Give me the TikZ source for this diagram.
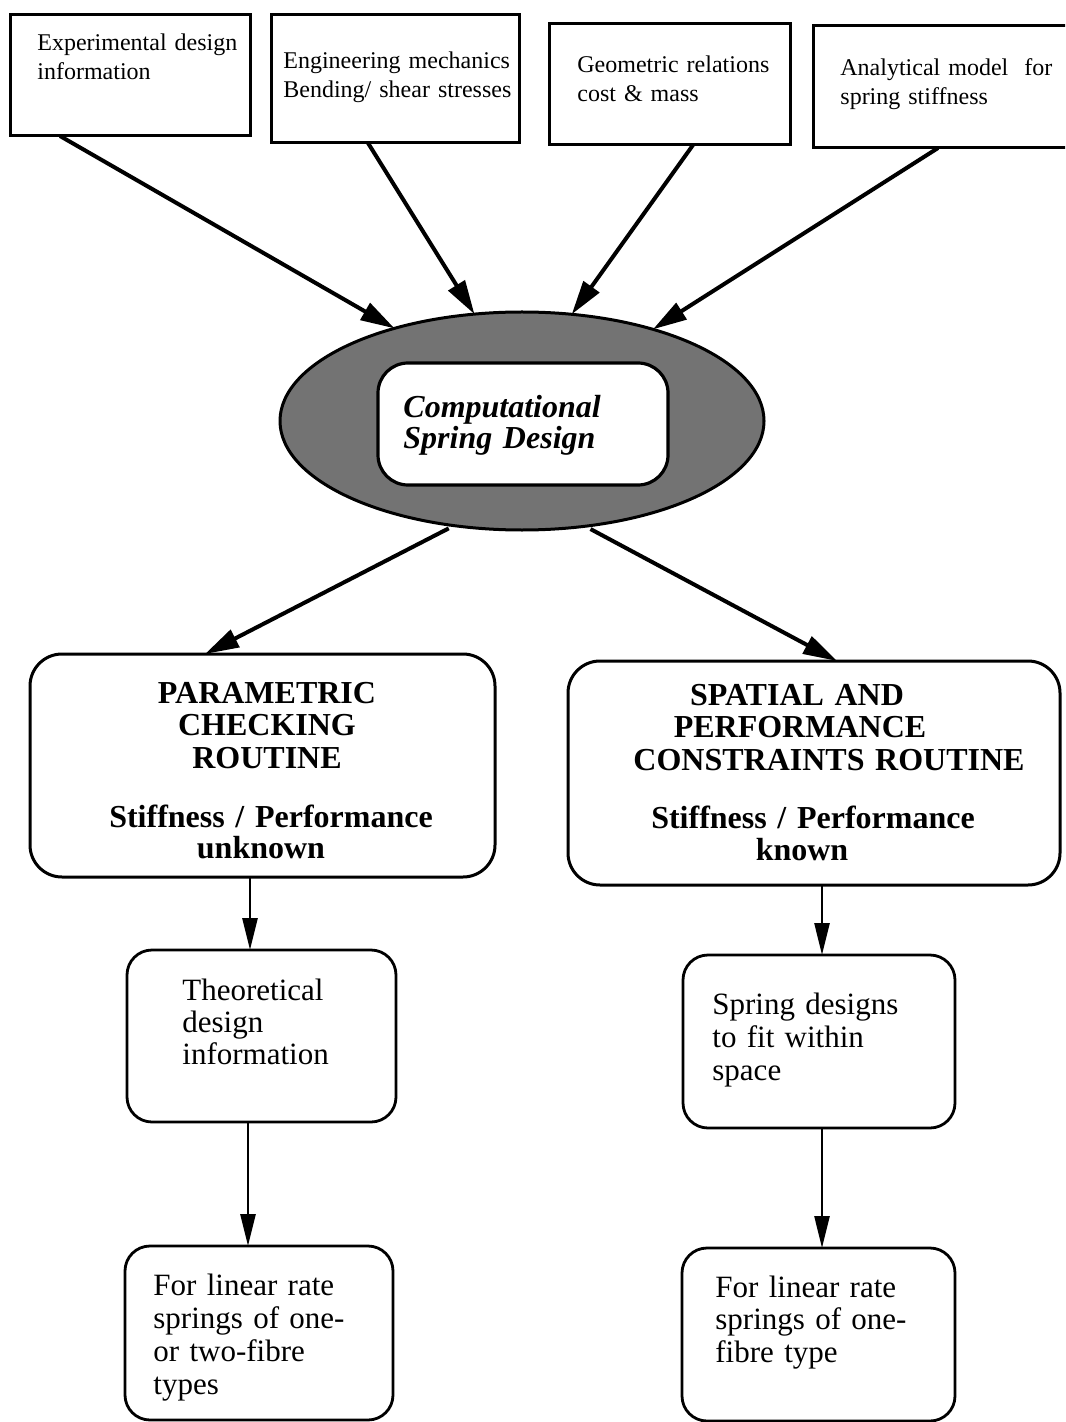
\documentclass[tikz,border=0pt]{standalone}
\usepackage{fontspec}
\setmainfont{Liberation Serif}
\usetikzlibrary{arrows.meta,fit,shapes.geometric}

\begin{document}
\begin{tikzpicture}[x=0.5pt,y=-0.5pt,
  sqbox/.style={draw,line width=1.5pt,inner sep=0pt,outer sep=0pt},
  bigbox/.style={draw,line width=1.5pt,rounded corners=16pt,inner sep=0pt,outer sep=0pt},
  smallbox/.style={draw,line width=1.4pt,rounded corners=12.5pt,inner sep=0pt,outer sep=0pt},
  toptxt/.style={inner sep=0pt,anchor=base west,text width=160pt,align=left,
    font=\fontsize{12}{14.5}\selectfont},
  titletxt/.style={inner sep=0pt,anchor=base,text width=230pt,align=center,
    font=\bfseries\fontsize{16}{16.25}\selectfont},
  subtxt/.style={inner sep=0pt,anchor=base,text width=230pt,align=center,
    font=\bfseries\fontsize{16}{15.75}\selectfont},
  lowtxt/.style={inner sep=0pt,anchor=base west,text width=120pt,align=left,
    font=\fontsize{15.5}{16.5}\selectfont},
  bigarrow/.style={line width=2pt,-{Triangle[length=17pt,width=9.5pt]}},
  thinarrow/.style={line width=1.3pt,-{Triangle[length=16pt,width=7.5pt]}},
]
\useasboundingbox (0,0) rectangle (1065,1422);
\clip (0,0) rectangle (1065,1422);

% source boxes along the top
\node[sqbox,fit={(10,15) (250,136)}] (b1) {};
\node[sqbox,fit={(271,15) (519,143)}] (b2) {};
\node[sqbox,fit={(549,24) (790,145)}] (b3) {};
\node[sqbox,fit={(813,26) (1090,148)}] (b4) {};

\node[toptxt] (t1) at (37,51) {Experimental design\\information};
\node[toptxt] (t2) at (283,69) {Engineering mechanics\\Bending/ shear stresses};
\node[toptxt] (t3) at (577,73) {Geometric relations\\cost \& mass};
\node[toptxt] (t4) at (840,76) {Analytical model~ for\\spring stiffness};

% central design kernel
\node[draw,ellipse,line width=1.5pt,fill=black!55,minimum width=242pt,
      minimum height=109pt,inner sep=0pt,outer sep=0pt] (ell) at (522,421) {};
\node[draw,fill=white,line width=1.6pt,rounded corners=15pt,inner sep=0pt,
      outer sep=0pt,fit={(378,363) (668,485)}] (core) {};
\node[inner sep=0pt,anchor=base west,text width=150pt,align=left,
      font=\bfseries\itshape\fontsize{16}{15.75}\selectfont] (coretxt) at (403,417)
      {Computational\\Spring Design};

% the two routines
\node[bigbox,fit={(30,654) (495,877)}] (pbox) {};
\node[bigbox,fit={(568,661) (1060,885)}] (sbox) {};

\node[titletxt] (ptitle) at (267,703) {PARAMETRIC\\CHECKING\\ROUTINE};
\node[subtxt] (psub) at (271,827) {Stiffness / Performance\\unknown\hspace*{10pt}\mbox{}};
\node[titletxt] (stitle) at (829,705)
  {SPATIAL AND\hspace*{32pt}\mbox{}\\PERFORMANCE\hspace*{29pt}\mbox{}\\CONSTRAINTS ROUTINE};
\node[subtxt,font=\bfseries\fontsize{16}{16}\selectfont] (ssub) at (813,828)
  {Stiffness / Performance\\known\hspace*{11pt}\mbox{}};

% results
\node[smallbox,fit={(127,950) (396,1122)}] (thbox) {};
\node[smallbox,fit={(125,1246) (393,1420)}] (lin1) {};
\node[smallbox,fit={(683,955) (955,1128)}] (spbox) {};
\node[smallbox,fit={(682,1248) (955,1421)}] (lin2) {};

\node[lowtxt,font=\fontsize{15.5}{16}\selectfont] (thtxt) at (182,1000)
  {Theoretical\\design\\information};
\node[lowtxt] (lin1txt) at (153,1295)
  {For linear rate\\springs of one-\\or two-fibre\\types};
\node[lowtxt] (sptxt) at (712,1014) {Spring designs\\to fit within\\space};
\node[lowtxt,font=\fontsize{15.5}{16.25}\selectfont] (lin2txt) at (715,1297)
  {For linear rate\\springs of one-\\fibre type};

% inputs into the kernel
\draw[bigarrow] ([xshift=25pt]b1.south west) -- (ell.144);
\draw[bigarrow] ([xshift=48.5pt]b2.south west) -- (ell.114);
\draw[bigarrow] ([xshift=72pt]b3.south west) -- (ell.65);
\draw[bigarrow] ([xshift=62.5pt]b4.south west) -- (ell.35);

% kernel to routines
\draw[bigarrow,shorten <=3pt] (ell.237) -- ([xshift=87.5pt]pbox.north west);
\draw[bigarrow,shorten <=3pt] (ell.301) -- ([xshift=134.5pt]sbox.north west);

% routines to results
\draw[thinarrow] ([xshift=-6.25pt]pbox.south) -- ([xshift=-6.25pt]pbox.south |- thbox.north);
\draw[thinarrow] ([xshift=-6.75pt]thbox.south) -- ([xshift=-6.75pt]thbox.south |- lin1.north);
\draw[thinarrow] ([xshift=4pt]sbox.south) -- ([xshift=4pt]sbox.south |- spbox.north);
\draw[thinarrow] ([xshift=1.5pt]spbox.south) -- ([xshift=1.5pt]spbox.south |- lin2.north);
\end{tikzpicture}
\end{document}
